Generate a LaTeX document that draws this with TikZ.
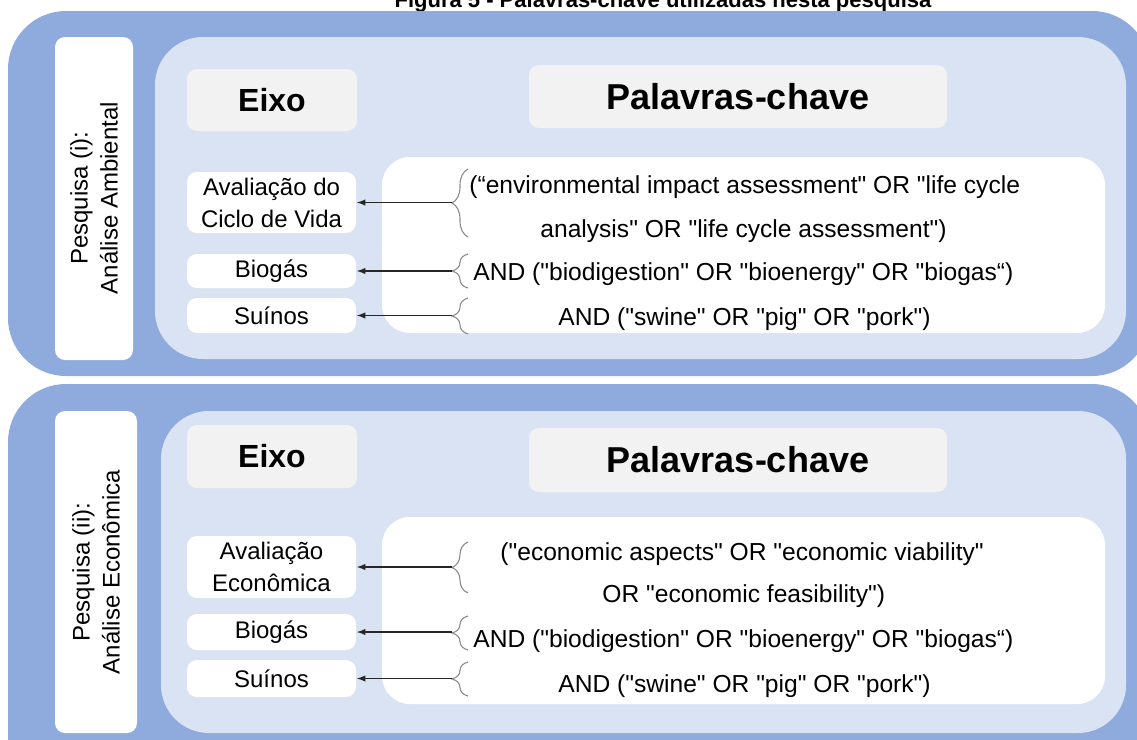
\documentclass[tikz,border=0pt]{standalone}
\usepackage{fontspec}
\setmainfont{Liberation Sans}
% keyword lines keep plain straight quotes, so no TeX ligature mapping here
\newfontfamily\kwfont{Liberation Sans}[Ligatures=ResetAll]
\usetikzlibrary{arrows.meta,decorations.pathreplacing}
\definecolor{outerblue}{HTML}{8FAADC}
\definecolor{innerblue}{HTML}{DAE3F3}
\definecolor{headgray}{HTML}{F2F2F2}
\definecolor{linkgray}{HTML}{262626}
\definecolor{bracegray}{HTML}{8C8C8C}
\begin{document}
\begin{tikzpicture}[x=0.5pt,y=-0.5pt,
  outerpanel/.style={fill=outerblue,rounded corners=29pt},
  sidepanel/.style={fill=white,rounded corners=5pt},
  innerpanel/.style={fill=innerblue,rounded corners=24pt},
  kwpanel/.style={fill=white,rounded corners=14pt},
  headbox/.style={fill=headgray,rounded corners=5pt,inner sep=0pt},
  axisbox/.style={fill=white,rounded corners=5pt,inner sep=0pt,
    minimum width=84.5pt,align=center,font=\fontsize{12}{16}\selectfont},
  kwtext/.style={anchor=base west,inner sep=0pt,font=\kwfont\fontsize{12.3}{14}\selectfont},
  sidetext/.style={rotate=90,align=center,font=\fontsize{12}{15}\selectfont},
  kbrace/.style={decorate,decoration={brace,amplitude=8pt},draw=bracegray,line width=0.55pt},
  link/.style={draw=linkgray,line width=0.75pt,-{Latex[length=4.5pt,width=3.2pt]}}
]
\clip (0,0) rectangle (1137,740);

% title line
\node[anchor=base,inner sep=0pt,font=\bfseries\fontsize{11}{13}\selectfont] (title) at (663,7)
  {Figura 5 - Palavras-chave utilizadas nesta pesquisa};

% ---------- search (i) ----------
\path[outerpanel] (8,11) rectangle (1150,376);
\path[sidepanel] (55,37) rectangle (133,360);
\path[innerpanel] (155,37) rectangle (1126,359);
\path[kwpanel] (382,157) rectangle (1105,333);

\node[sidetext] (tside) at (94,198) {Pesquisa (i):\\Análise Ambiental};
\node[headbox,minimum width=85pt,minimum height=31pt,
  font=\bfseries\fontsize{16}{19}\selectfont] (teixo) at (272,100) {Eixo};
\node[headbox,minimum width=209pt,minimum height=31.5pt,
  font=\bfseries\fontsize{18}{21}\selectfont] (tpal) at (738,96.5) {Palavras-chave};

\node[axisbox,minimum height=30.5pt] (ta1) at (271.5,202.5) {Avaliação do\\Ciclo de Vida};
\node[axisbox,minimum height=17pt] (ta2) at (271.5,271) {Biogás};
\node[axisbox,minimum height=17.5pt] (ta3) at (271.5,315.5) {Suínos};

\node[kwtext] (tk1) at (469,193) {(“environmental impact assessment" OR "life cycle};
\node[kwtext] (tk2) at (540,237) {analysis" OR "life cycle assessment")};
\node[kwtext] (tk3) at (473,280) {AND ("biodigestion" OR "bioenergy" OR "biogas“)};
\node[kwtext] (tk4) at (558,325) {AND ("swine" OR "pig" OR "pork")};

\draw[kbrace] (468,237) -- (468,169);
\draw[kbrace] (468,288) -- (468,254);
\draw[kbrace] (468,334) -- (468,298);
\coordinate (tb1) at (452,202.5);
\coordinate (tb2) at (452,271);
\coordinate (tb3) at (452,315.5);
\draw[link] (tb1) -- (ta1.east);
\draw[link] (tb2) -- (ta2.east);
\draw[link] (tb3) -- (ta3.east);

% ---------- search (ii) ----------
\path[outerpanel] (8,384) rectangle (1150,800);
\path[sidepanel] (55,411) rectangle (137,733);
\path[innerpanel] (161,411) rectangle (1126,733);
\path[kwpanel] (382,517) rectangle (1105,704);

\node[sidetext] (bside) at (96,572) {Pesquisa (ii):\\Análise Econômica};
\node[headbox,minimum width=85pt,minimum height=31.5pt,
  font=\bfseries\fontsize{16}{19}\selectfont] (beixo) at (272,456.5) {Eixo};
\node[headbox,minimum width=209pt,minimum height=32pt,
  font=\bfseries\fontsize{18}{21}\selectfont] (bpal) at (738,460) {Palavras-chave};

\node[axisbox,minimum height=31pt] (ba1) at (271.5,567) {Avaliação\\Econômica};
\node[axisbox,minimum height=18pt] (ba2) at (271.5,632) {Biogás};
\node[axisbox,minimum height=18.5pt] (ba3) at (271.5,678.5) {Suínos};

\node[kwtext] (bk1) at (500,560) {("economic aspects" OR "economic viability"};
\node[kwtext] (bk2) at (602,602) {OR "economic feasibility")};
\node[kwtext] (bk3) at (473,647) {AND ("biodigestion" OR "bioenergy" OR "biogas“)};
\node[kwtext] (bk4) at (558,692) {AND ("swine" OR "pig" OR "pork")};

\draw[kbrace] (468,593) -- (468,542);
\draw[kbrace] (468,650) -- (468,616);
\draw[kbrace] (468,696) -- (468,662);
\coordinate (bb1) at (452,567);
\coordinate (bb2) at (452,632);
\coordinate (bb3) at (452,678.5);
\draw[link] (bb1) -- (ba1.east);
\draw[link] (bb2) -- (ba2.east);
\draw[link] (bb3) -- (ba3.east);
\end{tikzpicture}
\end{document}
